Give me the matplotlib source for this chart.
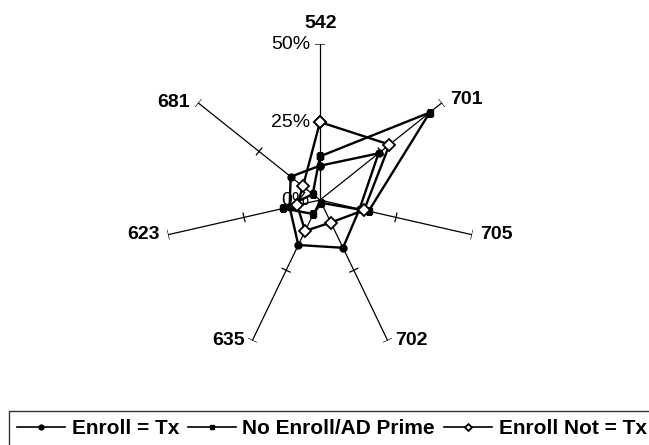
import numpy as np
import matplotlib
matplotlib.use("Agg")
import matplotlib.pyplot as plt

plt.rcParams["font.family"] = ["Liberation Sans", "DejaVu Sans"]

# spokes, clockwise from the top
categories = ["542", "701", "705", "702", "635", "623", "681"]
enroll_tx = [11, 24, 13, 17, 16, 10, 12]
no_enroll_ad_prime = [14, 45, 16, 1, 5, 12, 3]
enroll_not_tx = [25, 28.5, 14.5, 8, 11, 7.5, 7]
radial_ticks = [0, 25, 50]
radial_labels = ["0%", "25%", "50%"]
r_max = 50

series = [
    ("Enroll = Tx", enroll_tx, dict(marker="o", markersize=5, markerfacecolor="black")),
    ("No Enroll/AD Prime", no_enroll_ad_prime, dict(marker="s", markersize=4.5, markerfacecolor="black")),
    ("Enroll Not = Tx", enroll_not_tx, dict(marker="D", markersize=6, markerfacecolor="white",
                                            markeredgewidth=1.3)),
]

# label offsets in pixels from the end of each spoke
label_offsets = {
    "542": (1, 21, "center"), "701": (8, 3, "left"), "705": (8, 0, "left"),
    "702": (7, 0, "left"), "635": (-7, 0, "right"), "623": (-8, 0, "right"),
    "681": (-8, 0, "right"),
}


def main():
    fig = plt.figure(figsize=(6.49, 4.45), dpi=100)
    ax = fig.add_axes([0.2527, 0.2, 0.4807, 0.701], projection="polar")
    ax.set_theta_zero_location("N")
    ax.set_theta_direction(-1)
    ax.set_ylim(0, r_max)
    ax.grid(False)
    ax.spines["polar"].set_visible(False)
    ax.set_xticks([])
    ax.set_yticks([])
    ax.patch.set_alpha(0)

    angles = np.linspace(0, 2 * np.pi, len(categories), endpoint=False)

    # spokes with cross ticks at 25% and 50%
    for theta, cat in zip(angles, categories):
        ax.plot([theta, theta], [0, r_max], color="black", lw=0.9, zorder=1)
        for r in radial_ticks[1:]:
            d = 1.4 / r
            arc = np.linspace(theta - d, theta + d, 5)
            ax.plot(arc, np.full_like(arc, r), color="black", lw=0.9, zorder=1)
        dx, dy, ha = label_offsets[cat]
        ax.annotate(cat, (theta, r_max), xytext=(dx, dy), textcoords="offset pixels",
                    ha=ha, va="center", fontsize=14, fontweight="bold")

    for r, lab in zip(radial_ticks, radial_labels):
        ax.annotate(lab, (0, r), xytext=(-10, 0), textcoords="offset pixels",
                    ha="right", va="center", fontsize=14)

    closed = np.append(angles, angles[0])
    for name, values, style in series:
        vals = np.append(values, values[0])
        ax.plot(closed, vals, color="black", lw=1.7, label=name,
                markeredgecolor="black", zorder=3, **style)

    handles, labels = ax.get_legend_handles_labels()
    leg = fig.legend(handles, labels, loc="upper left", bbox_to_anchor=(9 / 649, 1 - 411 / 445),
                     ncol=3, frameon=True, fancybox=False, edgecolor="black",
                     prop={"weight": "bold", "size": 15}, handlelength=2.3,
                     handletextpad=0.3, columnspacing=0.45, borderpad=0.4,
                     borderaxespad=0)
    leg.get_frame().set_linewidth(1.0)
    for h in leg.legend_handles:
        h.set_linewidth(1.2)
        h.set_markersize(3.5)

    fig.savefig("out.png", dpi=100, facecolor="white")
    plt.close(fig)


if __name__ == "__main__":
    main()
